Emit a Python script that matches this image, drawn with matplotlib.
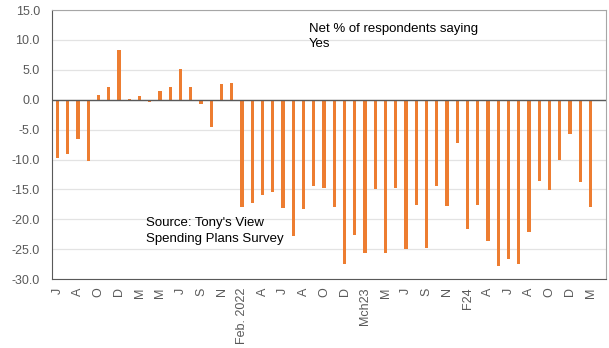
import numpy as np
import matplotlib.pyplot as plt

plt.rcParams['font.family'] = ['Liberation Sans', 'DejaVu Sans']

# net % of respondents saying yes, one value per survey (last slot empty)
values = [-9.8, -9.1, -6.6, -10.2, 0.8, 2.2, 8.3, 0.1, 0.6, -0.4,
          1.4, 2.2, 5.2, 2.2, -0.7, -4.5, 2.7, 2.8, -17.9, -17.2,
          -15.9, -15.5, -18.1, -22.8, -18.3, -14.4, -14.7, -17.9, -27.4, -22.7,
          -25.6, -14.9, -25.6, -14.7, -24.9, -17.6, -24.8, -14.4, -17.7, -7.3,
          -21.7, -17.6, -23.6, -27.8, -26.6, -27.4, -22.1, -13.6, -15.1, -10.1,
          -5.8, -13.8, -17.9]
tick_labels = ['J', 'A', 'O', 'D', 'M', 'M', 'J', 'S', 'N', 'Feb. 2022',
               'A', 'J', 'A', 'O', 'D', 'Mch23', 'M', 'J', 'S', 'N',
               'F24', 'A', 'J', 'A', 'O', 'D', 'M']
n_slots = 54
yticks = [15, 10, 5, 0, -5, -10, -15, -20, -25, -30]

orange = '#ED7D31'
grey_txt = '#595959'

fig = plt.figure(figsize=(6.09, 3.48), dpi=100)
ax = fig.add_axes([0.086, 0.198, 0.909, 0.773])

x = np.arange(len(values))
ax.bar(x, values, width=0.32, color=orange, zorder=3)
ax.axhline(0, color='#595959', lw=1.0, zorder=4)

ax.set_xlim(-0.5, n_slots - 0.5)
ax.set_ylim(-30, 15)
ax.set_yticks(yticks)
ax.set_yticklabels([f'{v:.1f}' for v in yticks])
ax.set_xticks(np.arange(0, len(values), 2))
ax.set_xticklabels(tick_labels, rotation=90)
ax.tick_params(axis='both', length=0, labelsize=9, colors=grey_txt)
ax.tick_params(axis='y', pad=9)
ax.tick_params(axis='x', pad=6)

ax.yaxis.grid(True, color='#E3E3E3', lw=0.9, zorder=0)
for side in ['left', 'bottom']:
    ax.spines[side].set_color('#595959')
for side in ['top', 'right']:
    ax.spines[side].set_color('#A6A6A6')

ax.text(24.5, 10.6, 'Net % of respondents saying\nYes', fontsize=9.5,
        va='center', ha='left', linespacing=1.4)
ax.text(8.6, -22.0, "Source: Tony's View\nSpending Plans Survey", fontsize=9.5,
        va='center', ha='left', linespacing=1.4)

fig.savefig('out.png', dpi=100)
